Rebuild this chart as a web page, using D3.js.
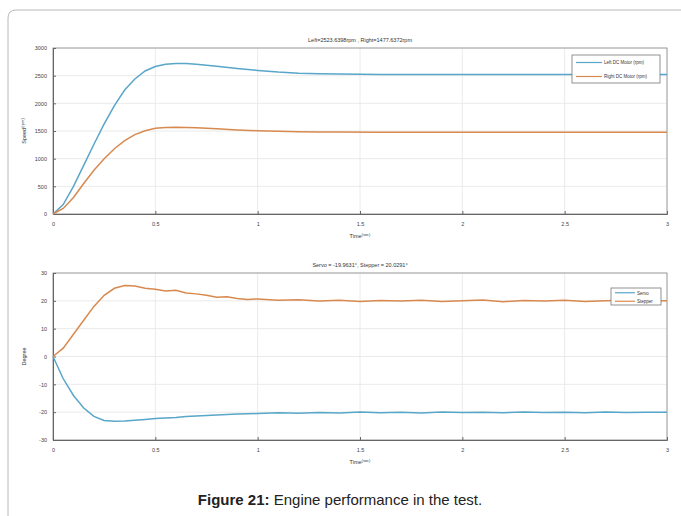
<!DOCTYPE html>
<html><head><meta charset="utf-8">
<script src="https://cdn.jsdelivr.net/npm/d3@7"></script>
<style>body{margin:0;background:#fff;}svg{display:block;font-family:"Liberation Sans",Arial,sans-serif;}</style>
</head><body>
<svg id="c" width="681" height="516"></svg>
<script>
const xTicks = [0, 0.5, 1, 1.5, 2, 2.5, 3];
const xTickLabels = ["0", "0.5", "1", "1.5", "2", "2.5", "3"];
const speedTicks = [0, 500, 1000, 1500, 2000, 2500, 3000];
const degreeTicks = [-30, -20, -10, 0, 10, 20, 30];

const timeTop = [0,0.05,0.1,0.15,0.2,0.25,0.3,0.35,0.4,0.45,0.5,0.55,0.6,0.65,0.7,0.8,0.9,1.0,1.1,1.2,1.3,1.4,1.6,1.8,2.0,2.2,2.4,2.6,2.8,3.0];
const leftMotor = [0,170,500,880,1260,1630,1960,2240,2440,2585,2665,2705,2722,2720,2705,2670,2630,2595,2565,2545,2535,2528,2522,2520,2520,2520,2520,2521,2521,2521];
const rightMotor = [0,100,300,550,790,1000,1180,1325,1435,1505,1548,1563,1567,1565,1558,1540,1520,1505,1495,1488,1484,1481,1479,1478,1478,1478,1478,1478,1478,1478];

const timeBottom = [0,0.05,0.1,0.15,0.2,0.25,0.3,0.35,0.4,0.45,0.5,0.55,0.6,0.65,0.7,0.75,0.8,0.85,0.9,0.95,1.0,1.1,1.2,1.3,1.4,1.5,1.6,1.7,1.8,1.9,2.0,2.1,2.2,2.3,2.4,2.5,2.6,2.7,2.8,2.9,3.0];
const servo = [0,-8,-14,-18.5,-21.5,-23,-23.3,-23.2,-22.9,-22.6,-22.3,-22.1,-21.9,-21.6,-21.4,-21.2,-21,-20.8,-20.7,-20.6,-20.5,-20.2,-20.4,-20.1,-20.3,-19.9,-20.2,-20.0,-20.3,-19.9,-20.1,-20.0,-20.2,-19.9,-20.1,-20.0,-20.2,-19.9,-20.1,-20.0,-20.0];
const stepper = [0,3,8,13,18,22,24.5,25.5,25.3,24.5,24.2,23.5,23.8,22.8,22.5,22,21.3,21.5,20.8,20.5,20.7,20.2,20.4,19.9,20.2,19.8,20.1,19.9,20.2,19.8,20.0,20.3,19.7,20.1,19.9,20.2,19.8,20.0,20.2,19.9,20.0];

const blue = "#58a6c9", orange = "#d8894f";
const svg = d3.select("#c");

// outer frame
svg.append("path").attr("d","M8,516 L8,18 Q8,10 16,10 L681,10")
  .attr("fill","none").attr("stroke","#b8b8b8").attr("stroke-width",1);

function panel(cfg){
  const x = d3.scaleLinear().domain([0,3]).range([53,667]);
  const y = d3.scaleLinear().domain(cfg.domain).range([cfg.bottom,cfg.top]);
  const g = svg.append("g");
  g.selectAll(".gx").data(xTicks).join("line")
    .attr("x1",d=>x(d)).attr("x2",d=>x(d)).attr("y1",cfg.top).attr("y2",cfg.bottom)
    .attr("stroke","#e4e4e4").attr("stroke-width",0.8);
  g.selectAll(".gy").data(cfg.ticks).join("line")
    .attr("x1",53).attr("x2",667).attr("y1",d=>y(d)).attr("y2",d=>y(d))
    .attr("stroke","#e4e4e4").attr("stroke-width",0.8);
  g.append("rect").attr("x",53).attr("y",cfg.top).attr("width",614).attr("height",cfg.bottom-cfg.top)
    .attr("fill","none").attr("stroke","#8a8a8a").attr("stroke-width",0.8);
  const ax = g.append("g").attr("transform",`translate(0,${cfg.bottom})`)
    .call(d3.axisBottom(x).tickValues(xTicks).tickFormat((d,i)=>xTickLabels[i]).tickSize(-3).tickPadding(8));
  const ay = g.append("g").attr("transform","translate(53,0)")
    .call(d3.axisLeft(y).tickValues(cfg.ticks).tickFormat(d=>String(d)).tickSize(-3).tickPadding(6));
  [ax,ay].forEach(a=>{
    a.select(".domain").attr("stroke","#666");
    a.selectAll(".tick line").attr("stroke","#666");
    a.selectAll("text").attr("font-size",5.5).attr("fill","#444");
  });
  const line = d3.line().x((d,i)=>x(cfg.time[i])).y(d=>y(d));
  cfg.series.forEach(s=>{
    g.append("path").datum(s.values).attr("d",line).attr("fill","none")
      .attr("stroke",s.color).attr("stroke-width",1.5);
  });
  g.append("text").attr("x",360).attr("y",cfg.top-6).attr("text-anchor","middle")
    .attr("font-size",5.5).attr("fill","#333").text(cfg.title);
  const xl = g.append("text").attr("x",360).attr("y",cfg.bottom+24).attr("text-anchor","middle")
    .attr("font-size",5.5).attr("fill","#333");
  xl.append("tspan").text("Time");
  xl.append("tspan").attr("dy",-2).attr("font-size",4).text("(sec)");
  const yl = g.append("text").attr("transform",`translate(${cfg.ylx},${(cfg.top+cfg.bottom)/2}) rotate(-90)`)
    .attr("text-anchor","middle").attr("font-size",5.5).attr("fill","#333");
  yl.append("tspan").text(cfg.ylabel);
  if(cfg.ysup) yl.append("tspan").attr("dy",-2).attr("font-size",4).text(cfg.ysup);
  const L = cfg.legend;
  g.append("rect").attr("x",L.x).attr("y",L.y).attr("width",L.w).attr("height",L.h)
    .attr("fill","#fff").attr("stroke","#777").attr("stroke-width",0.8);
  cfg.series.forEach((s,i)=>{
    const yy = L.y + L.h*(i+0.5)/cfg.series.length + 0.5;
    g.append("line").attr("x1",L.x+4).attr("x2",L.x+L.lw).attr("y1",yy).attr("y2",yy)
      .attr("stroke",s.color).attr("stroke-width",1.2);
    g.append("text").attr("x",L.x+L.lw+2).attr("y",yy+1.8).attr("font-size",4.5).attr("fill","#333").text(s.name);
  });
}

panel({domain:[0,3000], ticks:speedTicks, top:48, bottom:214, time:timeTop,
  title:"Left=2523.6398rpm , Right=1477.6372rpm",
  ylabel:"Speed", ysup:"(rpm)", ylx:26,
  series:[{name:"Left DC Motor (rpm)",values:leftMotor,color:blue},{name:"Right DC Motor (rpm)",values:rightMotor,color:orange}],
  legend:{x:572,y:55,w:88,h:28,lw:30}});

panel({domain:[-30,30], ticks:degreeTicks, top:273, bottom:440, time:timeBottom,
  title:"Servo = -19.9631°, Stepper = 20.0291°",
  ylabel:"Degree", ylx:26,
  series:[{name:"Servo",values:servo,color:blue},{name:"Stepper",values:stepper,color:orange}],
  legend:{x:611,y:288,w:50,h:17,lw:24}});

const cap = svg.append("text").attr("x",340).attr("y",505).attr("text-anchor","middle")
  .attr("font-size",15).attr("fill","#222");
cap.append("tspan").attr("font-weight","bold").text("Figure 21:");
cap.append("tspan").text(" Engine performance in the test.");
</script>
</body></html>
